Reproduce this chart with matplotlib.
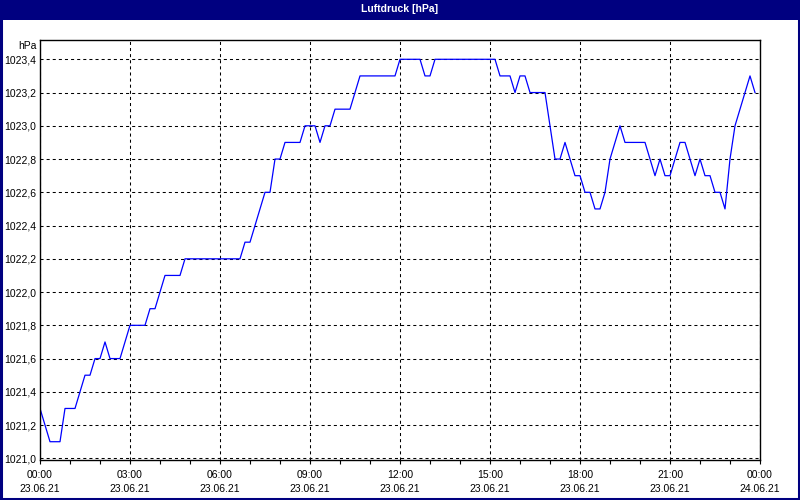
import matplotlib
matplotlib.use('Agg')
import matplotlib.pyplot as plt
from matplotlib.patches import Rectangle
from matplotlib.ticker import MultipleLocator, FuncFormatter

plt.rcParams['font.family'] = ['Liberation Sans', 'DejaVu Sans']
plt.rcParams['lines.scale_dashes'] = False

# Luftdruck alle 10 Minuten, 23.06.21 00:00 bis 23:50
druck = [
    1021.3, 1021.2, 1021.1, 1021.1, 1021.1, 1021.3,   # 00
    1021.3, 1021.3, 1021.4, 1021.5, 1021.5, 1021.6,   # 01
    1021.6, 1021.7, 1021.6, 1021.6, 1021.6, 1021.7,   # 02
    1021.8, 1021.8, 1021.8, 1021.8, 1021.9, 1021.9,   # 03
    1022.0, 1022.1, 1022.1, 1022.1, 1022.1, 1022.2,   # 04
    1022.2, 1022.2, 1022.2, 1022.2, 1022.2, 1022.2,   # 05
    1022.2, 1022.2, 1022.2, 1022.2, 1022.2, 1022.3,   # 06
    1022.3, 1022.4, 1022.5, 1022.6, 1022.6, 1022.8,   # 07
    1022.8, 1022.9, 1022.9, 1022.9, 1022.9, 1023.0,   # 08
    1023.0, 1023.0, 1022.9, 1023.0, 1023.0, 1023.1,   # 09
    1023.1, 1023.1, 1023.1, 1023.2, 1023.3, 1023.3,   # 10
    1023.3, 1023.3, 1023.3, 1023.3, 1023.3, 1023.3,   # 11
    1023.4, 1023.4, 1023.4, 1023.4, 1023.4, 1023.3,   # 12
    1023.3, 1023.4, 1023.4, 1023.4, 1023.4, 1023.4,   # 13
    1023.4, 1023.4, 1023.4, 1023.4, 1023.4, 1023.4,   # 14
    1023.4, 1023.4, 1023.3, 1023.3, 1023.3, 1023.2,   # 15
    1023.3, 1023.3, 1023.2, 1023.2, 1023.2, 1023.2,   # 16
    1023.0, 1022.8, 1022.8, 1022.9, 1022.8, 1022.7,   # 17
    1022.7, 1022.6, 1022.6, 1022.5, 1022.5, 1022.6,   # 18
    1022.8, 1022.9, 1023.0, 1022.9, 1022.9, 1022.9,   # 19
    1022.9, 1022.9, 1022.8, 1022.7, 1022.8, 1022.7,   # 20
    1022.7, 1022.8, 1022.9, 1022.9, 1022.8, 1022.7,   # 21
    1022.8, 1022.7, 1022.7, 1022.6, 1022.6, 1022.5,   # 22
    1022.8, 1023.0, 1023.1, 1023.2, 1023.3, 1023.2,   # 23
]
stunden = [i / 6 for i in range(len(druck))]

uhrzeiten = ['00:00', '03:00', '06:00', '09:00', '12:00', '15:00', '18:00', '21:00', '00:00']
daten = ['23.06.21'] * 8 + ['24.06.21']

navy = '#000080'

fig = plt.figure(figsize=(8, 5), dpi=100)
fig.patch.set_facecolor('white')

# Titelleiste und Rahmen
fig.patches.append(Rectangle((0, 0.96), 1, 0.04, transform=fig.transFigure,
                             facecolor=navy, edgecolor='none'))
fig.patches.append(Rectangle((0.0015, 0.003), 0.997, 0.996, transform=fig.transFigure,
                             facecolor='none', edgecolor=navy, linewidth=2.2))
fig.text(0.5, 0.981, 'Luftdruck [hPa]', color='white', fontsize=7.5,
         fontweight='bold', ha='center', va='center')

ax = fig.add_axes([0.05, 0.08, 0.90, 0.84])
ax.plot(stunden, druck, color='#0000ff', linewidth=0.9)

ax.set_xlim(0, 24)
ax.set_ylim(1020.99, 1023.516)

ax.set_xticks(range(0, 25, 3))
ax.set_xticklabels([f'{u}\n{d}' for u, d in zip(uhrzeiten, daten)], linespacing=1.5)
ax.xaxis.set_minor_locator(MultipleLocator(1))
ax.yaxis.set_major_locator(MultipleLocator(0.2))
ax.yaxis.set_major_formatter(FuncFormatter(lambda v, p: f'{v:.1f}'.replace('.', ',')))

ax.tick_params(axis='x', which='both', direction='out', length=3, width=0.8,
               labelsize=7.5, pad=4)
ax.tick_params(axis='y', length=0, labelsize=7.5, pad=3)

ax.grid(True, which='major', color='black', linestyle=(0, (2.2, 2.2)), linewidth=0.75)
for s in ax.spines.values():
    s.set_linewidth(1.0)
    s.set_color('black')

ax.annotate('hPa', xy=(0, 1), xycoords='axes fraction', xytext=(-3, -6),
            textcoords='offset pixels', ha='right', va='center', fontsize=7.5)

fig.savefig('out.png', dpi=100)
